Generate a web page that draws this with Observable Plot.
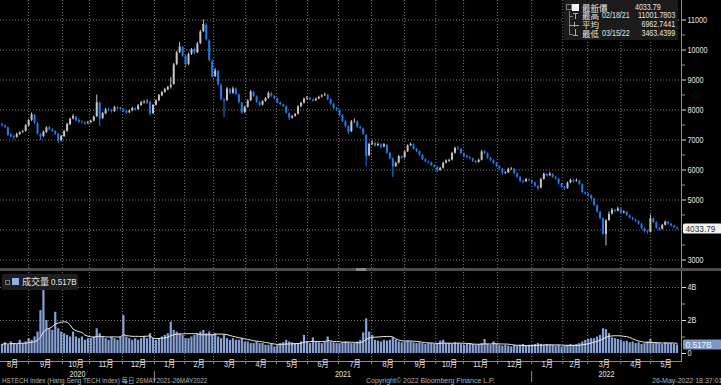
<!DOCTYPE html>
<html>
<head>
<meta charset="utf-8">
<script src="https://cdn.jsdelivr.net/npm/d3@7"></script>
<script src="https://cdn.jsdelivr.net/npm/@observablehq/plot@0.6"></script>
<style>
html, body { margin: 0; padding: 0; background: #000; }
#chart { position: relative; width: 721px; height: 385px; background: #000; overflow: hidden;
  font-family: "Liberation Sans", Arial, "Noto Sans CJK TC", sans-serif; color: #e0e0e0; }
.abs { position: absolute; white-space: nowrap; }
#chart svg { position: absolute; left: 0; }
</style>
</head>
<body>
<div id="chart"></div>
<script>
// ---- Data: 2-trading-day candles, HSTECH Index (approx. Aug 2020 – 26 May 2022) ----
const opens = [7520,7470,7400,7170,7120,7090,7180,7260,7290,7470,
7660,7820,7540,7180,7120,7250,7410,7330,7280,7190,
6980,7110,7290,7510,7700,7760,7650,7590,7570,7550,
7580,7630,7780,8230,7720,7870,8010,7990,7950,8070,
8060,8010,7960,7910,7970,8040,8010,8150,8230,8270,
8260,7880,8160,8310,8470,8590,8670,8760,8850,9520,
9920,10080,9780,9520,9860,10020,9910,10220,10620,10820,
10300,9620,9120,9280,8820,8330,8320,8680,8560,8690,
8500,8230,7920,8090,8310,8580,8440,8240,8160,8290,
8390,8540,8450,8370,8240,8170,8110,7880,7730,7790,
7860,8110,8230,8370,8390,8340,8310,8370,8430,8480,
8490,8340,8190,8040,7990,7810,7610,7440,7280,7610,
7600,7420,7370,7150,6480,6860,6890,6810,6840,6770,
6820,6550,6370,6120,6230,6440,6410,6610,6810,6840,
6690,6610,6490,6340,6270,6230,6140,6090,5990,6060,
6230,6290,6330,6560,6730,6690,6540,6460,6410,6370,
6280,6260,6330,6610,6540,6390,6310,6210,6110,6030,
5880,5910,6010,6020,5870,5750,5630,5610,5670,5640,
5570,5450,5400,5690,5850,5810,5850,5750,5690,5530,
5420,5390,5570,5640,5620,5630,5510,5240,5190,5140,
5030,4810,4590,4370,3850,4320,4530,4650,4630,4690,
4570,4590,4470,4390,4330,4280,4190,4040,3940,3930,
4370,4240,4050,4030,4160,4250,4190,4130,4070];

const highs = [7560,7510,7430,7220,7160,7230,7280,7320,7510,7680,
7900,7850,7580,7210,7300,7440,7450,7380,7310,7220,
7160,7320,7560,7730,7850,7790,7700,7640,7610,7620,
7660,7800,8500,8270,7920,8050,8060,8020,8120,8110,
8090,8040,7990,8000,8090,8080,8180,8290,8320,8340,
8290,8190,8340,8520,8620,8720,8790,9080,9550,9950,
10250,10120,9820,9900,10050,10060,10250,10650,11001.78,10880,
10340,9680,9380,9320,8870,8380,8750,8720,8760,8730,
8540,8260,8120,8340,8650,8620,8470,8280,8310,8420,
8600,8580,8480,8400,8270,8200,8140,7910,7820,7890,
8140,8260,8400,8450,8420,8370,8400,8460,8510,8560,
8520,8370,8220,8080,8020,7840,7640,7470,7650,7700,
7640,7460,7400,7180,6900,6980,6930,6900,6880,6880,
6850,6580,6400,6260,6480,6470,6640,6840,6900,6870,
6720,6640,6520,6370,6300,6260,6170,6120,6090,6260,
6340,6360,6590,6760,6780,6720,6570,6490,6440,6400,
6310,6360,6650,6640,6570,6420,6340,6240,6140,6060,
5940,6060,6080,6050,5900,5780,5660,5720,5700,5670,
5600,5480,5720,5900,5880,5920,5880,5780,5720,5560,
5450,5600,5690,5680,5700,5660,5540,5270,5220,5170,
5060,4840,4620,4400,4350,4600,4720,4690,4760,4720,
4640,4620,4500,4420,4360,4310,4220,4070,3990,4500,
4400,4270,4080,4190,4300,4280,4220,4160,4100];

const lows = [7440,7380,7120,7060,7000,7060,7150,7220,7260,7440,
7620,7520,7160,6980,7080,7220,7300,7250,7150,6900,
6940,7090,7260,7480,7670,7600,7560,7530,7490,7510,
7550,7600,7750,7450,7680,7850,7940,7900,7920,8000,
7990,7920,7860,7880,7940,7960,7990,8120,8200,8200,
7800,7850,8130,8280,8440,8560,8640,8700,8830,9480,
9880,9750,9380,9480,9820,9850,9880,10180,10580,10300,
9600,9050,9080,8800,8300,7750,8280,8500,8520,8480,
8200,7860,7880,8060,8280,8420,8220,8100,8130,8260,
8360,8420,8340,8210,8140,8080,7860,7650,7690,7760,
7830,8080,8200,8330,8310,8260,8280,8340,8400,8450,
8310,8160,8010,7960,7780,7580,7410,7180,7250,7560,
7390,7340,7150,6100,6440,6820,6760,6780,6720,6740,
6520,6340,5750,6080,6200,6360,6380,6580,6780,6660,
6580,6460,6310,6240,6200,6110,6060,5900,5960,6030,
6200,6260,6300,6530,6660,6510,6410,6380,6340,6250,
6210,6230,6300,6510,6360,6280,6180,6080,6000,5820,
5850,5880,5990,5840,5720,5580,5540,5580,5610,5540,
5420,5300,5370,5660,5760,5780,5720,5660,5500,5390,
5320,5360,5540,5570,5590,5480,5210,5160,5110,5000,
4780,4560,4340,3820,3463.44,4290,4500,4580,4600,4520,
4540,4450,4370,4310,4250,4160,4010,3900,3860,3900,
4210,4020,3960,4000,4130,4160,4100,4040,4000];

const closes = [7480,7420,7150,7100,7080,7190,7240,7280,7480,7640,
7840,7560,7200,7100,7260,7400,7340,7290,7200,6960,
7120,7280,7520,7690,7780,7640,7600,7580,7540,7570,
7620,7760,8250,7700,7880,8000,7980,7940,8080,8050,
8020,7950,7900,7960,8050,8000,8140,8240,8260,8280,
7860,8150,8300,8480,8580,8680,8750,8820,9500,9900,
10100,9800,9500,9850,10000,9900,10200,10600,10850,10350,
9650,9100,9300,8850,8350,8300,8700,8550,8700,8520,
8250,7900,8080,8300,8600,8450,8250,8150,8280,8380,
8550,8460,8380,8250,8180,8120,7900,7720,7780,7850,
8100,8220,8360,8400,8350,8300,8360,8420,8470,8500,
8350,8200,8050,8000,7820,7620,7450,7260,7600,7620,
7430,7380,7200,6450,6850,6900,6800,6850,6760,6840,
6560,6380,6100,6220,6450,6400,6600,6800,6850,6700,
6620,6500,6350,6280,6240,6150,6100,5980,6050,6220,
6300,6320,6550,6720,6700,6550,6450,6420,6380,6290,
6250,6320,6600,6550,6400,6320,6220,6120,6040,5900,
5900,6020,6030,5880,5760,5620,5600,5680,5650,5580,
5460,5380,5680,5860,5800,5860,5760,5700,5540,5430,
5380,5560,5650,5610,5640,5520,5250,5200,5150,5040,
4820,4600,4380,3860,4300,4520,4660,4620,4700,4560,
4600,4480,4400,4340,4290,4200,4050,3950,3920,4380,
4250,4060,4020,4150,4260,4200,4140,4080,4033.79];

// volume, billions of shares (2-day average)
const volumes = [0.55,0.65,0.5,0.7,0.6,0.55,0.8,0.6,0.7,0.9,
0.8,1.0,1.3,2.6,3.9,2.0,1.5,1.4,2.5,1.5,
1.3,1.2,1.1,1.0,1.3,1.0,0.9,1.0,0.8,0.9,
0.9,1.0,1.5,1.2,1.0,0.9,0.8,1.0,0.9,0.8,
1.0,2.3,1.0,0.9,0.8,0.9,0.8,0.9,1.0,0.9,
1.2,0.9,0.8,0.9,1.0,1.1,1.2,1.9,1.4,1.3,
1.2,1.1,0.9,0.9,1.0,1.1,1.2,1.3,1.4,1.2,
1.3,1.1,1.2,1.0,0.9,1.1,0.9,0.8,0.9,0.8,
0.8,0.9,0.7,0.7,0.6,0.6,0.7,0.6,0.6,0.5,
0.5,0.55,0.4,0.5,0.6,0.65,0.8,0.7,0.65,0.6,
0.6,0.7,1.1,0.7,0.6,0.95,0.7,0.65,0.6,0.7,
1.0,0.7,0.65,0.6,0.6,0.65,0.7,0.65,0.6,0.6,
0.7,0.8,1.25,2.1,1.3,1.1,0.8,0.75,0.7,0.8,
0.75,0.8,0.95,0.8,0.7,0.65,0.7,0.75,0.7,0.65,
0.6,0.65,0.6,0.55,0.6,0.6,0.55,0.6,0.75,0.8,
0.6,0.6,0.55,0.65,0.6,0.55,0.5,0.55,0.6,0.55,
0.5,0.55,0.6,0.85,0.55,0.5,0.7,0.55,0.5,0.45,
0.5,0.45,0.4,0.5,0.45,0.5,0.55,0.45,0.5,0.5,
0.55,0.6,0.55,0.5,0.55,0.5,0.5,0.45,0.5,0.4,
0.45,0.5,0.55,0.5,0.55,0.6,0.7,0.8,0.85,0.9,
0.9,1.0,1.1,1.5,1.45,1.2,0.95,0.9,0.85,0.8,
0.7,0.75,0.65,0.7,0.6,0.65,0.55,0.6,0.7,0.85,
0.6,0.65,0.6,0.55,0.65,0.6,0.6,0.55,0.517];

// month boundaries in candle units (trading-day based), and labels
const monthBounds = [-1.4, 9.5, 20.9, 30.1, 41.2, 52.0, 62.2, 72.0, 82.8, 93.2, 103.7, 114.2,
  125.3, 136.5, 147.0, 156.4, 167.9, 179.4, 189.9, 198.3, 209.5, 219.6, 230];
const monthLabels = ["8月","9月","10月","11月","12月","1月","2月","3月","4月","5月","6月","7月",
  "8月","9月","10月","11月","12月","1月","2月","3月","4月","5月"];
const yearBounds = [0, 52.0, 179.4, 230];
const yearLabels = ["2020", "2021", "2022"];

const priceTicks = [3000, 4000, 5000, 6000, 7000, 8000, 9000, 10000, 11000];
const priceMinor = [3500, 4500, 5500, 6500, 7500, 8500, 9500, 10500];
const volTicks = [0, 2, 4];
const volMinor = [1, 3];

const legendLabels = ["最新價", "最高", "平均", "最低"];
const legendDates = ["", "02/18/21", "", "03/15/22"];
const legendValues = ["4033.79", "11001.7803", "6962.7441", "3463.4399"];
const lastClose = 4033.79, lastVolume = 0.517;

// ---- Build ----
const FONT = '"Liberation Sans", Arial, "Noto Sans CJK TC", sans-serif';
const GRID = {stroke: "#7a7a7a", strokeDasharray: "1,2", strokeWidth: 1};
const UP = "#c4c4c4", DOWN = "#1f7ce6", VOLC = "#86a2d6", AXIS = "#8c8c8c", TXT = "#e2e2e2";
const N = closes.length;
const xDomain = [0, N + 1];
const monthStarts = monthBounds.slice(1, -1);
const monthLabelData = monthLabels.map((label, i) => ({label, x: (monthBounds[i] + monthBounds[i + 1]) / 2}));
const yearLabelData = yearLabels.map((label, i) => ({label, x: (yearBounds[i] + yearBounds[i + 1]) / 2}));
const yearStarts = yearBounds.slice(1, -1);
// the last-price tag covers the tick label nearest to it
const priceLabelTicks = priceTicks.filter(t => Math.abs(t - lastClose) > 200);

const candles = closes.map((c, k) => ({x: k + 0.5, o: opens[k], h: highs[k], l: lows[k], c,
  color: c >= opens[k] ? UP : DOWN}));
const volData = volumes.map((v, k) => ({x: k + 0.5, v}));

const baseStyle = {background: "transparent", color: TXT, fontFamily: FONT, fontSize: "9px", overflow: "visible"};

const pricePlot = Plot.plot({
  width: 721, height: 269,
  marginTop: 0, marginRight: 40, marginBottom: 0, marginLeft: 0,
  style: baseStyle,
  x: {domain: xDomain, axis: null},
  y: {domain: [2800, 11650], range: [265.5, 0], axis: null},
  marks: [
    Plot.ruleY(priceTicks, GRID),
    Plot.ruleX(monthStarts, GRID),
    Plot.ruleX(candles, {x: "x", y1: "l", y2: "h", stroke: d => d.color, strokeWidth: 1}),
    Plot.ruleX(candles, {x: "x", y1: "o", y2: "c", stroke: d => d.color, strokeWidth: 2}),
    Plot.frame({anchor: "right", stroke: AXIS}),
    Plot.axisY({anchor: "right", ticks: priceLabelTicks, tickSize: 4, tickPadding: 2, label: null,
      tickFormat: d => String(d), stroke: TXT, fill: TXT}),
    Plot.axisY({anchor: "right", ticks: priceMinor, tickSize: 3, label: null, tickFormat: () => "", stroke: "#9a9a9a"})
  ]
});

const volPlot = Plot.plot({
  width: 721, height: 112,
  marginTop: 0, marginRight: 40, marginBottom: 20, marginLeft: 0,
  style: baseStyle,
  x: {domain: xDomain, axis: null, label: null},
  y: {domain: [0, 5], range: [84, 1.5], axis: null, label: null},
  marks: [
    Plot.ruleY(volTicks.filter(d => d > 0), GRID),
    Plot.ruleX(monthStarts, GRID),
    Plot.ruleX(volData, {x: "x", y1: 0, y2: "v", stroke: VOLC, strokeWidth: 2.2}),
    Plot.lineY(volData, Plot.windowY({k: 10, anchor: "end"}, {x: "x", y: "v", stroke: "#e8e8e8", strokeWidth: 1})),
    Plot.frame({anchor: "right", stroke: AXIS}),
    Plot.frame({anchor: "bottom", stroke: AXIS}),
    Plot.axisY({anchor: "right", ticks: volTicks, tickSize: 4, tickPadding: 2, label: null,
      tickFormat: d => d === 0 ? "0" : d + "B", stroke: TXT, fill: TXT}),
    Plot.axisY({anchor: "right", ticks: volMinor, tickSize: 3, label: null, tickFormat: () => "", stroke: "#9a9a9a"}),
    Plot.axisX({ticks: monthStarts, tickSize: 3, label: null, tickFormat: () => "", stroke: AXIS}),
    Plot.text(monthLabelData, {x: "x", text: "label", frameAnchor: "bottom", dy: 5, fill: TXT, fontSize: 9}),
    Plot.text(yearLabelData, {x: "x", text: "label", frameAnchor: "bottom", dy: 15, fill: TXT, fontSize: 9}),
    Plot.axisX({ticks: yearStarts, tickSize: 11, dy: 10, label: null, tickFormat: () => "", stroke: AXIS})
  ]
});

const root = document.getElementById("chart");
pricePlot.style.top = "0px";
volPlot.style.top = "269px";
root.appendChild(pricePlot);
root.appendChild(volPlot);

// Bloomberg's terminal font is narrower than Liberation Sans: condense rendered texts
function squeeze(sel, f) {
  sel.each(function () {
    const w = this.getComputedTextLength();
    if (w > 0) {
      this.setAttribute("textLength", (w * f).toFixed(2));
      this.setAttribute("lengthAdjust", "spacingAndGlyphs");
    }
  });
}
squeeze(d3.select(pricePlot).selectAll('g[aria-label="y-axis tick label"] text'), 0.8);
squeeze(d3.select(volPlot).selectAll('g[aria-label="y-axis tick label"] text'), 0.8);
squeeze(d3.select(volPlot).selectAll('g[aria-label="text"] text'), 0.8);

// last-value tags, positioned through the plots' own scales
function valueTag(plot, value, label, bg, fg) {
  const y = plot.scale("y").apply(value);
  const x = plot.scale("x").apply(xDomain[1]) + 2;
  const g = d3.select(plot).append("g");
  g.append("rect").attr("x", x).attr("y", y - 5).attr("width", 40).attr("height", 10)
    .attr("rx", 1.5).attr("fill", bg);
  const t = g.append("text").attr("x", x + 2.5).attr("y", y).attr("dy", "0.35em")
    .attr("text-anchor", "start")
    .attr("fill", fg).attr("font-size", 9).attr("font-family", FONT).text(label);
  squeeze(t, 0.92);
}
valueTag(pricePlot, lastClose, String(lastClose), "#f2f2f2", "#333");
valueTag(volPlot, lastVolume, lastVolume + "B", "#7d97c6", "#f4f6ff");

// divider between panels
function addDiv(style, text) {
  const d = document.createElement("div");
  d.className = "abs";
  Object.assign(d.style, style);
  if (text != null) d.textContent = text;
  root.appendChild(d);
  return d;
}
addDiv({left: "0px", top: "268px", width: "721px", height: "3px", background: "#4e4e4e"});
addDiv({left: "356px", top: "268px", width: "10px", height: "3px", background: "#8a8a8a"});

// price legend (top right)
const lg = addDiv({left: "564px", top: "0px", width: "114px", height: "40px", background: "#1b1b1b"});
const rowTop = [2.8, 11.4, 20.3, 28.8];
function legText(parent, style, text) {
  const d = document.createElement("div");
  d.className = "abs";
  Object.assign(d.style, {fontSize: "9px", lineHeight: "9px", color: TXT}, style);
  d.textContent = text;
  parent.appendChild(d);
  return d;
}
// icons
legText(lg, {left: "2px", top: "4px", width: "4px", height: "4px", border: "1px solid #777"}, "");
legText(lg, {left: "8px", top: "3.5px", width: "7px", height: "7px", background: "#f4f4f4"}, "");
legText(lg, {left: "5px", top: "11px", width: "1px", height: "23px", background: "#777"}, "");
legText(lg, {left: "5px", top: "15.5px", width: "4px", height: "1px", background: "#777"}, "");
legText(lg, {left: "9px", top: "13px", width: "5px", height: "1px", background: "#aaa"}, "");
legText(lg, {left: "11px", top: "13px", width: "1px", height: "6px", background: "#aaa"}, "");
legText(lg, {left: "5px", top: "24.5px", width: "10px", height: "1px", background: "#aaa"}, "");
legText(lg, {left: "10px", top: "22px", width: "1px", height: "5px", background: "#aaa"}, "");
legText(lg, {left: "5px", top: "33.5px", width: "4px", height: "1px", background: "#777"}, "");
legText(lg, {left: "11px", top: "29px", width: "1px", height: "6px", background: "#aaa"}, "");
legText(lg, {left: "9px", top: "35px", width: "5px", height: "1px", background: "#aaa"}, "");
legendLabels.forEach((t, i) => {
  legText(lg, {left: "18px", top: rowTop[i] + "px", fontFamily: '"Noto Sans CJK TC", sans-serif', fontSize: "8.5px"}, t);
  if (legendDates[i]) legText(lg, {left: "38px", top: rowTop[i] + "px", fontSize: "8.5px",
    transform: "scaleX(0.84)", transformOrigin: "left center"}, legendDates[i]);
  legText(lg, {right: (i === 0 ? 17 : 3) + "px", top: rowTop[i] + "px", fontSize: "8.5px",
    transform: "scaleX(0.84)", transformOrigin: "right center"}, legendValues[i]);
});

// volume legend
const vl = addDiv({left: "2px", top: "274px", width: "76px", height: "16px", background: "#1e1e1e"});
legText(vl, {left: "3px", top: "6px", width: "3px", height: "3px", border: "1px solid #777"}, "");
legText(vl, {left: "10px", top: "4px", width: "7px", height: "7px", background: "#8eaee8"}, "");
legText(vl, {left: "20px", top: "3px", fontFamily: '"Noto Sans CJK TC", sans-serif'}, "成交量");
legText(vl, {left: "49px", top: "3.5px", transform: "scaleX(0.9)", transformOrigin: "left center"}, lastVolume + "B");

// footer
const foot = {top: "377px", fontSize: "7px", lineHeight: "8px", color: "#b0b0b0"};
addDiv(Object.assign({left: "2px", transform: "scaleX(0.91)", transformOrigin: "left center"}, foot),
  "HSTECH Index (Hang Seng TECH Index)  每日 26MAY2021-26MAY2022");
addDiv(Object.assign({left: "366px"}, foot), "Copyright© 2022 Bloomberg Finance L.P.");
addDiv(Object.assign({left: "652px"}, foot), "26-May-2022 18:37:01");
</script>
</body>
</html>
